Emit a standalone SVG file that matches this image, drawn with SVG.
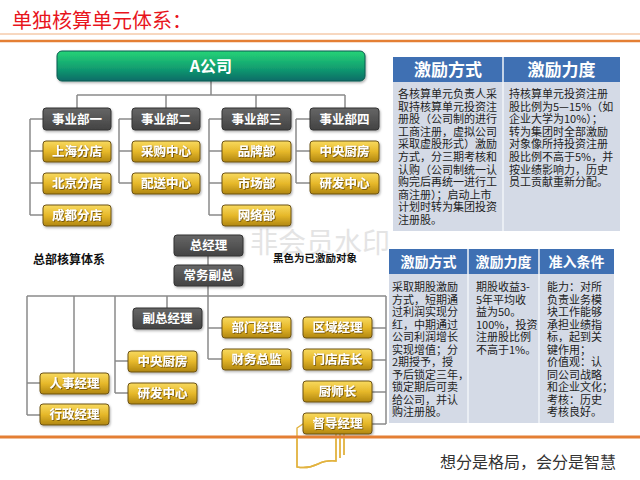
<svg xmlns="http://www.w3.org/2000/svg" width="640" height="480" viewBox="0 0 640 480">
<defs>
<linearGradient id="gy" x1="0" y1="0" x2="0" y2="1"><stop offset="0" stop-color="#f8da60"/><stop offset="0.5" stop-color="#e6b82a"/><stop offset="1" stop-color="#b08610"/></linearGradient>
<linearGradient id="gd" x1="0" y1="0" x2="0" y2="1"><stop offset="0" stop-color="#666"/><stop offset="1" stop-color="#434343"/></linearGradient>
<linearGradient id="gg" x1="0" y1="0" x2="0" y2="1"><stop offset="0" stop-color="#26d477"/><stop offset="0.55" stop-color="#12a070"/><stop offset="1" stop-color="#0b6c68"/></linearGradient>
<filter id="ts" x="-10%" y="-30%" width="120%" height="160%"><feDropShadow dx="0.8" dy="0.8" stdDeviation="0.3" flood-color="#4a3000" flood-opacity="0.8"/></filter>
<filter id="bs" x="-10%" y="-20%" width="125%" height="150%"><feDropShadow dx="1" dy="1.5" stdDeviation="0.8" flood-color="#000" flood-opacity="0.3"/></filter>
</defs>
<style>
.y{fill:url(#gy);stroke:#6d5313;stroke-width:1}
.d{fill:url(#gd);stroke:#333;stroke-width:1}
.bt{font-family:"Noto Sans CJK SC","Liberation Sans",sans-serif;font-weight:bold;font-size:12.5px;fill:#fff;text-anchor:middle}
.yt{filter:url(#ts)}
.c{fill:none;stroke:#8a8a8a;stroke-width:1.5}
.tb{font-family:"Noto Sans CJK SC","Liberation Sans",sans-serif;font-size:11px;fill:#222}
.th{font-family:"Noto Sans CJK SC","Liberation Sans",sans-serif;font-weight:bold;fill:#fff;text-anchor:middle}
.lb{font-family:"Noto Sans CJK SC","Liberation Sans",sans-serif;font-weight:bold;fill:#111}
</style>
<rect width="640" height="480" fill="#fff"/>
<text x="250" y="253" font-family="Noto Sans CJK SC, sans-serif" font-size="28" fill="#e4e4e4">非会员水印</text>
<g id="title">
<text x="12" y="28" font-family="Noto Sans CJK SC, serif" font-size="20" fill="#e8141c">单独核算单元体系：</text>
<line x1="0" y1="34" x2="640" y2="34" stroke="#f0b080" stroke-width="1"/>
<line x1="0" y1="41" x2="640" y2="41" stroke="#e47f34" stroke-width="2.5"/>
</g>
<g id="connectors" class="c">
<path d="M211,81V95M77,95H345M77,95V108M166,95V108M256,95V108M345,95V108"/>
<path d="M30,119V215M30,119H43M30,151H43M30,183H43M30,215H43"/>
<path d="M119,119V183M119,119H132M119,151H132M119,183H132"/>
<path d="M209,119V215M209,119H222M209,151H222M209,183H222M209,215H222"/>
<path d="M296,119V183M296,119H310M296,151H310M296,183H310"/>
<path d="M208,256V265M208,286V359M208,328H222M208,359H222"/>
<path d="M27,296H386M27,296V415M27,383H40M27,415H40M74,296V373"/>
<path d="M115,296V393M115,361H128M115,393H128M167,296V308"/>
<path d="M386,296V424M372,328H386M372,360H386M372,392H386M372,424H386"/>
</g>
<g id="a-company"><rect x="57" y="51" width="308" height="30" rx="5" fill="url(#gg)" stroke="#0a5a50" filter="url(#bs)"/><text x="211" y="72" class="bt" style="font-size:16px">A公司</text></g>
<g id="bu1"><rect class="d" x="43" y="108" width="68" height="22" rx="3" filter="url(#bs)"/><text class="bt" x="77" y="123.5">事业部一</text></g>
<g id="bu2"><rect class="d" x="132" y="108" width="68" height="22" rx="3" filter="url(#bs)"/><text class="bt" x="166" y="123.5">事业部二</text></g>
<g id="bu3"><rect class="d" x="222" y="108" width="69" height="22" rx="3" filter="url(#bs)"/><text class="bt" x="256.5" y="123.5">事业部三</text></g>
<g id="bu4"><rect class="d" x="310" y="108" width="69" height="22" rx="3" filter="url(#bs)"/><text class="bt" x="344.5" y="123.5">事业部四</text></g>
<g id="shanghai"><rect class="y" x="43" y="141" width="68" height="21" rx="3" filter="url(#bs)"/><text class="bt yt" x="77" y="156">上海分店</text></g>
<g id="beijing"><rect class="y" x="43" y="173" width="68" height="21" rx="3" filter="url(#bs)"/><text class="bt yt" x="77" y="188">北京分店</text></g>
<g id="chengdu"><rect class="y" x="43" y="205" width="68" height="21" rx="3" filter="url(#bs)"/><text class="bt yt" x="77" y="220">成都分店</text></g>
<g id="purchase"><rect class="y" x="132" y="141" width="68" height="21" rx="3" filter="url(#bs)"/><text class="bt yt" x="166" y="156">采购中心</text></g>
<g id="delivery"><rect class="y" x="132" y="173" width="68" height="21" rx="3" filter="url(#bs)"/><text class="bt yt" x="166" y="188">配送中心</text></g>
<g id="brand"><rect class="y" x="222" y="141" width="69" height="21" rx="3" filter="url(#bs)"/><text class="bt yt" x="256.5" y="156">品牌部</text></g>
<g id="market"><rect class="y" x="222" y="173" width="69" height="21" rx="3" filter="url(#bs)"/><text class="bt yt" x="256.5" y="188">市场部</text></g>
<g id="network"><rect class="y" x="222" y="205" width="69" height="21" rx="3" filter="url(#bs)"/><text class="bt yt" x="256.5" y="220">网络部</text></g>
<g id="kitchen1"><rect class="y" x="310" y="141" width="69" height="21" rx="3" filter="url(#bs)"/><text class="bt yt" x="344.5" y="156">中央厨房</text></g>
<g id="rd1"><rect class="y" x="310" y="173" width="69" height="21" rx="3" filter="url(#bs)"/><text class="bt yt" x="344.5" y="188">研发中心</text></g>
<text class="lb" x="33" y="264" font-size="12">总部核算体系</text>
<text class="lb" x="273" y="262" font-size="10.5">黑色为已激励对象</text>
<g id="gm"><rect class="d" x="174" y="235" width="69" height="21" rx="3" filter="url(#bs)"/><text class="bt" x="208.5" y="250">总经理</text></g>
<g id="evp"><rect class="d" x="174" y="265" width="69" height="21" rx="3" filter="url(#bs)"/><text class="bt" x="208.5" y="280">常务副总</text></g>
<g id="vp"><rect class="d" x="133" y="308" width="69" height="21" rx="3" filter="url(#bs)"/><text class="bt" x="167.5" y="323">副总经理</text></g>
<g id="deptmgr"><rect class="y" x="222" y="317" width="69" height="21" rx="3" filter="url(#bs)"/><text class="bt yt" x="256.5" y="332">部门经理</text></g>
<g id="cfo"><rect class="y" x="222" y="349" width="69" height="21" rx="3" filter="url(#bs)"/><text class="bt yt" x="256.5" y="364">财务总监</text></g>
<g id="doc-icon" fill="#fff" stroke="#e2b340" stroke-width="1.4">
<path d="M344,430V455"/><path d="M340,430V458"/>
<path d="M297,428L303,424H336V461Q326,460 318,464Q308,469 297,467Z"/>
</g>
<g id="region"><rect class="y" x="303" y="317" width="69" height="21" rx="3" filter="url(#bs)"/><text class="bt yt" x="337.5" y="332">区域经理</text></g>
<g id="store"><rect class="y" x="303" y="349" width="69" height="21" rx="3" filter="url(#bs)"/><text class="bt yt" x="337.5" y="364">门店店长</text></g>
<g id="chef"><rect class="y" x="303" y="381" width="69" height="21" rx="3" filter="url(#bs)"/><text class="bt yt" x="337.5" y="396">厨师长</text></g>
<g id="supervisor"><rect class="y" x="303" y="413" width="69" height="21" rx="3" filter="url(#bs)"/><text class="bt yt" x="337.5" y="428">督导经理</text></g>
<g id="kitchen2"><rect class="y" x="128" y="351" width="69" height="21" rx="3" filter="url(#bs)"/><text class="bt yt" x="162.5" y="366">中央厨房</text></g>
<g id="rd2"><rect class="y" x="128" y="383" width="69" height="21" rx="3" filter="url(#bs)"/><text class="bt yt" x="162.5" y="398">研发中心</text></g>
<g id="hr"><rect class="y" x="40" y="373" width="69" height="21" rx="3" filter="url(#bs)"/><text class="bt yt" x="74.5" y="388">人事经理</text></g>
<g id="admin"><rect class="y" x="40" y="404" width="69" height="21" rx="3" filter="url(#bs)"/><text class="bt yt" x="74.5" y="419">行政经理</text></g>
<g id="table1">
<rect x="393" y="57" width="227" height="25" fill="#3f70b3"/>
<rect x="393" y="82" width="227" height="149" fill="#d4dae6"/>
<line x1="503" y1="57" x2="503" y2="231" stroke="#f2f4f8" stroke-width="1.5"/>
<text class="th" x="448" y="76" font-size="17">激励方式</text>
<text class="th" x="561.5" y="76" font-size="17">激励力度</text>
<text class="tb" x="398" y="98"><tspan x="398">各核算单元负责人采</tspan><tspan x="398" dy="12.6">取持核算单元投资注</tspan><tspan x="398" dy="12.6">册股（公司制的进行</tspan><tspan x="398" dy="12.6">工商注册，虚拟公司</tspan><tspan x="398" dy="12.6">采取虚股形式）激励</tspan><tspan x="398" dy="12.6">方式，分三期考核和</tspan><tspan x="398" dy="12.6">认购（公司制统一认</tspan><tspan x="398" dy="12.6">购完后再统一进行工</tspan><tspan x="398" dy="12.6">商注册）；启动上市</tspan><tspan x="398" dy="12.6">计划时转为集团投资</tspan><tspan x="398" dy="12.6">注册股。</tspan></text>
<text class="tb" x="509" y="98"><tspan x="509">持核算单元投资注册</tspan><tspan x="509" dy="12.6">股比例为5—15%（如</tspan><tspan x="509" dy="12.6">企业大学为10%）；</tspan><tspan x="509" dy="12.6">转为集团时全部激励</tspan><tspan x="509" dy="12.6">对象像所持投资注册</tspan><tspan x="509" dy="12.6">股比例不高于5%，并</tspan><tspan x="509" dy="12.6">按业绩影响力，历史</tspan><tspan x="509" dy="12.6">员工贡献重新分配。</tspan></text>
</g>
<g id="table2">
<rect x="389" y="249" width="225" height="25" fill="#3f70b3"/>
<rect x="389" y="274" width="225" height="149" fill="#d4dae6"/>
<line x1="468" y1="249" x2="468" y2="423" stroke="#f2f4f8" stroke-width="1.5"/>
<line x1="539" y1="249" x2="539" y2="423" stroke="#f2f4f8" stroke-width="1.5"/>
<text class="th" x="428.5" y="267" font-size="14">激励方式</text>
<text class="th" x="503.5" y="267" font-size="14">激励力度</text>
<text class="th" x="576.5" y="267" font-size="14">准入条件</text>
<text class="tb" x="392" y="291" font-size="10.5"><tspan x="392">采取期股激励</tspan><tspan x="392" dy="12.5">方式，短期通</tspan><tspan x="392" dy="12.5">过利润实现分</tspan><tspan x="392" dy="12.5">红，中期通过</tspan><tspan x="392" dy="12.5">公司利润增长</tspan><tspan x="392" dy="12.5">实现增值；分</tspan><tspan x="392" dy="12.5">2期授予，授</tspan><tspan x="392" dy="12.5">予后锁定三年，</tspan><tspan x="392" dy="12.5">锁定期后可卖</tspan><tspan x="392" dy="12.5">给公司，并认</tspan><tspan x="392" dy="12.5">购注册股。</tspan></text>
<text class="tb" x="476" y="291" font-size="10.5"><tspan x="476">期股收益3-</tspan><tspan x="476" dy="12.5">5年平均收</tspan><tspan x="476" dy="12.5">益为50。</tspan><tspan x="476" dy="12.5">100%，投资</tspan><tspan x="476" dy="12.5">注册股比例</tspan><tspan x="476" dy="12.5">不高于1%。</tspan></text>
<text class="tb" x="547" y="291" font-size="10.5"><tspan x="547">能力：对所</tspan><tspan x="547" dy="12.5">负责业务模</tspan><tspan x="547" dy="12.5">块工作能够</tspan><tspan x="547" dy="12.5">承担业绩指</tspan><tspan x="547" dy="12.5">标，起到关</tspan><tspan x="547" dy="12.5">键作用；</tspan><tspan x="547" dy="12.5">价值观：认</tspan><tspan x="547" dy="12.5">同公司战略</tspan><tspan x="547" dy="12.5">和企业文化；</tspan><tspan x="547" dy="12.5">考核：历史</tspan><tspan x="547" dy="12.5">考核良好。</tspan></text>
</g>
<line x1="0" y1="437" x2="640" y2="437" stroke="#e47f34" stroke-width="3"/>
<g id="doc-icon-lower" fill="none" stroke="#e2b340" stroke-width="1.4">
<path d="M297,438V467Q308,469 318,464Q326,460 336,461V438M340,438V458M344,438V455"/>
</g>
<text x="616" y="468" text-anchor="end" font-family="Noto Sans CJK SC, serif" font-size="16" fill="#333">想分是格局，会分是智慧</text>
</svg>
